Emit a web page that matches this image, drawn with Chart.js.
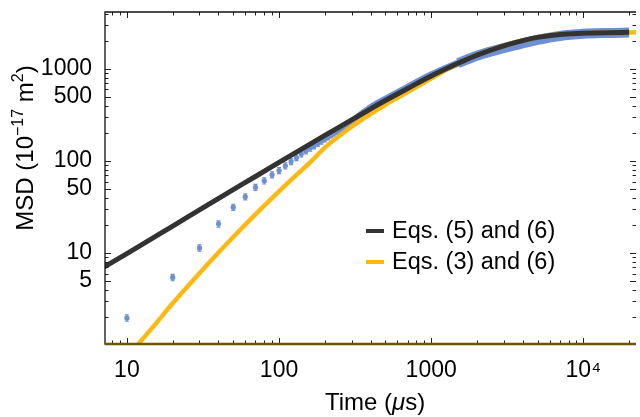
<!DOCTYPE html>
<html>
<head>
<meta charset="utf-8">
<script src="https://cdn.jsdelivr.net/npm/chart.js@4.4.0/dist/chart.umd.min.js"></script>
<style>
  html, body { margin: 0; padding: 0; background: #fff; overflow: hidden; }
</style>
</head>
<body>
<canvas id="msdChart" width="640" height="417"></canvas>
<script>
// measured MSD, early part (one point every 10 us), with error bars
const dataTimes = [10, 20, 30, 40, 50, 60, 70, 80, 90, 100, 110, 120, 130, 140, 150, 160, 170, 180, 190, 200, 210, 220, 230, 240, 250];
const dataMsd = [1.98, 5.45, 11.4, 20.8, 31.6, 41, 52, 61, 71, 79, 89, 99, 109, 120, 129, 138, 147, 156, 165, 174, 183, 192, 201, 210, 219];
const dataErr = [0.16, 0.44, 0.9, 1.6, 2.4, 3.1, 3.9, 4.6, 5.3, 5.9, 6.6, 7.3, 8.0, 8.7, 9.4, 10, 11, 11.5, 12, 12.5, 13, 13.5, 14, 14.5, 15];

// measured MSD, later part: the points are so dense they form a band
const bandTimes = [250, 300, 400, 500, 700, 1000, 1500];
const bandMsd = [219, 268, 380, 470, 635, 862, 1160];
const plateauTimes = [1500, 2000, 3000, 4000, 5000, 7000, 10000, 14000, 20000];
const plateauMsd = [1160, 1395, 1690, 1900, 2075, 2290, 2420, 2470, 2495];

// Eqs. (5) and (6)
const eq56Times = [7, 10, 20, 30, 50, 70, 100, 150, 200, 300, 400, 500, 700, 1000, 1500, 2000, 3000, 4000, 5000, 7000, 10000, 14000, 20000];
const eq56Msd = [7.0, 9.9, 19.7, 29.5, 49, 68, 97, 144, 190, 280, 370, 455, 615, 840, 1155, 1420, 1790, 2040, 2210, 2380, 2445, 2485, 2505];

// Eqs. (3) and (6)
const eq36Times = [10, 15, 20, 30, 40, 55, 80, 120, 160, 200, 250, 300, 385, 500, 700, 1000, 1500, 2000, 3000, 5000, 7000, 10000, 15000, 23000];
const eq36Msd = [0.74, 1.61, 2.85, 6.06, 10.15, 17.6, 32.8, 62.5, 96.8, 140, 189, 237, 313, 410, 563, 790, 1150, 1430, 1800, 2215, 2385, 2448, 2490, 2510];

const seriesLabels = ['Eqs. (5) and (6)', 'Eqs. (3) and (6)'];
const xLabelTicks = [10, 100, 1000, 10000];
const yLabelTicks = [5, 10, 50, 100, 500, 1000];

const FONT = "'Liberation Sans', Arial, sans-serif";
const BLUE = '#6d90d2';
const BLACK = '#333333';
const YELLOW = '#fdb913';

function toPoints(xs, ys) {
  return xs.map((t, i) => ({ x: t, y: ys[i] }));
}

// 1..9 x 10^n ticks inside [min, max]
function logTicks(scale) {
  const ticks = [];
  for (let e = Math.floor(Math.log10(scale.min)); e <= Math.ceil(Math.log10(scale.max)); e++) {
    for (let m = 1; m <= 9; m++) {
      const v = m * Math.pow(10, e);
      if (v >= scale.min && v <= scale.max) ticks.push({ value: v });
    }
  }
  scale.ticks = ticks;
}

const errorBars = {
  id: 'errorBars',
  beforeDatasetDraw(chart, args) {
    if (args.index !== 4) return;
    const { ctx, scales: { x, y } } = chart;
    ctx.save();
    ctx.strokeStyle = BLUE;
    ctx.lineWidth = 1.2;
    dataTimes.forEach((t, i) => {
      const px = x.getPixelForValue(t);
      const top = y.getPixelForValue(dataMsd[i] + dataErr[i]);
      const bot = y.getPixelForValue(dataMsd[i] - dataErr[i]);
      ctx.beginPath();
      ctx.moveTo(px, top); ctx.lineTo(px, bot);
      ctx.moveTo(px - 2, top); ctx.lineTo(px + 2, top);
      ctx.moveTo(px - 2, bot); ctx.lineTo(px + 2, bot);
      ctx.stroke();
    });
    ctx.restore();
  }
};

function drawRich(ctx, parts, x, y) {
  parts.forEach(p => {
    ctx.font = (p.italic ? 'italic ' : '') + p.size + 'px ' + FONT;
    ctx.fillText(p.t, x, y - (p.rise || 0));
    x += ctx.measureText(p.t).width;
  });
}

function richWidth(ctx, parts) {
  let w = 0;
  parts.forEach(p => {
    ctx.font = (p.italic ? 'italic ' : '') + p.size + 'px ' + FONT;
    w += ctx.measureText(p.t).width;
  });
  return w;
}

const frame = {
  id: 'frame',
  afterDraw(chart) {
    const { ctx, chartArea: a, scales: { x, y } } = chart;
    ctx.save();
    ctx.strokeStyle = '#222';
    ctx.lineWidth = 1;
    ctx.beginPath();
    x.ticks.forEach(t => {
      const px = Math.round(x.getPixelForValue(t.value)) + 0.5;
      const len = xLabelTicks.includes(t.value) ? 6 : 3.5;
      ctx.moveTo(px, a.bottom); ctx.lineTo(px, a.bottom - len);
      ctx.moveTo(px, a.top); ctx.lineTo(px, a.top + len);
    });
    y.ticks.forEach(t => {
      const py = Math.round(y.getPixelForValue(t.value)) + 0.5;
      const len = yLabelTicks.includes(t.value) ? 6 : 3.5;
      ctx.moveTo(a.left, py); ctx.lineTo(a.left + len, py);
      ctx.moveTo(a.right, py); ctx.lineTo(a.right - len, py);
    });
    ctx.stroke();

    // left and top frame (the right one sits just off the picture)
    ctx.strokeStyle = '#111';
    ctx.lineWidth = 1.3;
    ctx.beginPath();
    ctx.moveTo(a.left, a.bottom); ctx.lineTo(a.left, a.top);
    ctx.lineTo(a.right, a.top);
    ctx.stroke();
    ctx.strokeStyle = '#6e5600';
    ctx.lineWidth = 2.5;
    ctx.beginPath();
    ctx.moveTo(a.left - 0.6, a.bottom); ctx.lineTo(a.right, a.bottom);
    ctx.stroke();

    // legend
    const colors = [BLACK, YELLOW];
    ctx.font = '23.5px ' + FONT;
    ctx.fillStyle = '#000';
    ctx.textBaseline = 'middle';
    seriesLabels.forEach((lab, i) => {
      const ly = 231 + i * 31;
      ctx.strokeStyle = colors[i];
      ctx.lineWidth = 4;
      ctx.beginPath();
      ctx.moveTo(366, ly); ctx.lineTo(384, ly);
      ctx.stroke();
      ctx.fillText(lab, 392, ly + 1);
    });

    // axis titles
    ctx.textBaseline = 'alphabetic';
    const xTitle = [{ t: 'Time (', size: 24 }, { t: '\u03bc', size: 24, italic: true }, { t: 's)', size: 24 }];
    drawRich(ctx, xTitle, 375 - richWidth(ctx, xTitle) / 2, 410);
    const yTitle = [{ t: 'MSD (10', size: 24 }, { t: '\u221217', size: 16, rise: 10 }, { t: ' m', size: 24 }, { t: '2', size: 16, rise: 10 }, { t: ')', size: 24 }];
    ctx.translate(33, 148);
    ctx.rotate(-Math.PI / 2);
    drawRich(ctx, yTitle, -richWidth(ctx, yTitle) / 2, 0);
    ctx.restore();
  }
};

new Chart(document.getElementById('msdChart'), {
  type: 'scatter',
  data: {
    datasets: [
      {
        label: seriesLabels[0],
        data: toPoints(eq56Times, eq56Msd),
        showLine: true,
        borderColor: BLACK,
        borderWidth: 5,
        pointRadius: 0,
        cubicInterpolationMode: 'monotone',
        order: 0
      },
      {
        label: seriesLabels[1],
        data: toPoints(eq36Times, eq36Msd),
        showLine: true,
        borderColor: YELLOW,
        borderWidth: 4.5,
        pointRadius: 0,
        cubicInterpolationMode: 'monotone',
        order: 1
      },
      {
        label: 'Data (dense)',
        data: toPoints(bandTimes, bandMsd),
        showLine: true,
        borderColor: BLUE,
        borderWidth: 7,
        pointRadius: 0,
        cubicInterpolationMode: 'monotone',
        order: 2
      },
      {
        label: 'Data (plateau)',
        data: toPoints(plateauTimes, plateauMsd),
        showLine: true,
        borderColor: BLUE,
        borderWidth: 10,
        pointRadius: 0,
        cubicInterpolationMode: 'monotone',
        order: 3
      },
      {
        label: 'Data',
        data: toPoints(dataTimes, dataMsd),
        showLine: false,
        backgroundColor: BLUE,
        pointBackgroundColor: BLUE,
        pointBorderWidth: 0,
        pointRadius: 2.6,
        order: 4
      }
    ]
  },
  options: {
    responsive: false,
    animation: false,
    events: [],
    layout: { padding: { top: 12, right: 0, left: 0, bottom: 0 } },
    plugins: {
      legend: { display: false },
      tooltip: { enabled: false }
    },
    scales: {
      x: {
        type: 'logarithmic',
        position: 'bottom',
        min: 7.18,
        max: 22200,
        afterBuildTicks: logTicks,
        afterFit: s => { s.height = 73; s.paddingLeft = 0; s.paddingRight = 0; },
        grid: { display: false, drawTicks: false },
        border: { display: false },
        ticks: {
          autoSkip: false,
          maxRotation: 0,
          padding: 13,
          color: '#000',
          font: { family: FONT, size: 23 },
          callback: v => xLabelTicks.includes(v) ? (v === 10000 ? '10\u2074' : String(v)) : ''
        }
      },
      y: {
        type: 'logarithmic',
        position: 'left',
        min: 1.03,
        max: 4170,
        afterBuildTicks: logTicks,
        afterFit: s => { s.width = 105; s.paddingTop = 0; s.paddingBottom = 0; },
        grid: { display: false, drawTicks: false },
        border: { display: false },
        ticks: {
          autoSkip: false,
          padding: 13,
          color: '#000',
          font: { family: FONT, size: 23 },
          callback: v => yLabelTicks.includes(v) ? String(v) : ''
        }
      }
    }
  },
  plugins: [errorBars, frame]
});
</script>
</body>
</html>
